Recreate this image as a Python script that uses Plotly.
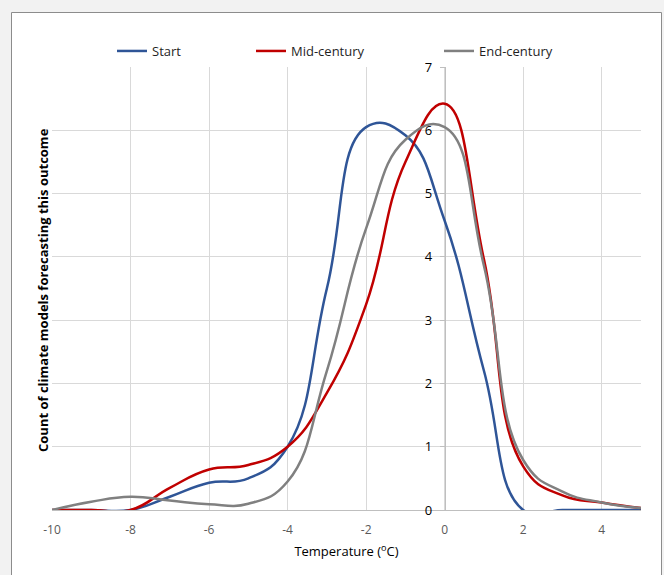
import plotly.graph_objects as go

temperature = [-10, -9, -8, -7, -6, -5, -4, -3, -2, -1, 0, 1, 2, 3, 4, 5]
start = [0, 0, 0, 0.21, 0.43, 0.5, 1.0, 3.5, 6.05, 5.92, 4.57, 2.2, 0, 0, 0, 0]
mid_century = [0, 0, 0, 0.35, 0.64, 0.71, 1.0, 1.85, 3.25, 5.5, 6.42, 3.96, 0.69, 0.23, 0.12, 0.03]
end_century = [0, 0.13, 0.21, 0.15, 0.09, 0.1, 0.45, 2.2, 4.45, 5.85, 6.05, 3.86, 0.79, 0.29, 0.12, 0.03]
series_names = ["Start", "Mid-century", "End-century"]
series_colors = ["#2f5597", "#c00000", "#808080"]
x_ticks = [-10, -8, -6, -4, -2, 0, 2, 4]
x_tick_text = ["-10", "-8", "-6", "-4", "-2", "0", "2", "4"]

W, H = 664, 575
L, R, T, B = 52, 23, 67, 65
pw, ph = W - L - R, H - T - B
def px(xp):
    return (xp - L) / pw
def py(yp):
    return (H - B - yp) / ph

FONT = "Open Sans"
fig = go.Figure()
legends = ["legend", "legend2", "legend3"]
for name, ys, col, lg in zip(series_names, [start, mid_century, end_century], series_colors, legends):
    fig.add_trace(go.Scatter(x=temperature, y=ys, mode="lines", name=name,
                             line=dict(color=col, width=2.5, shape="spline", smoothing=1.3),
                             legend=lg, hoverinfo="skip"))

leg_common = dict(orientation="h", yanchor="middle", xanchor="left",
                  bgcolor="rgba(0,0,0,0)", font=dict(family=FONT, size=13, color="#1f1f1f"),
                  itemwidth=30, tracegroupgap=0)
leg_x = [112, 251, 439]
fig.update_layout(
    width=W, height=H,
    margin=dict(l=L, r=R, t=T, b=B),
    paper_bgcolor="#f2f2f2", plot_bgcolor="white",
    showlegend=True,
    legend=dict(x=px(leg_x[0]), y=py(51), **leg_common),
    legend2=dict(x=px(leg_x[1]), y=py(51), **leg_common),
    legend3=dict(x=px(leg_x[2]), y=py(51), **leg_common),
    xaxis=dict(range=[-10, 5], tickvals=x_ticks, ticktext=x_tick_text, showgrid=True, gridcolor="#d9d9d9", gridwidth=1,
               zeroline=False, showline=True, linecolor="#bfbfbf", linewidth=1,
               ticks="outside", ticklen=9, tickcolor="rgba(0,0,0,0)",
               tickfont=dict(family=FONT, size=12, color="#595959"),
               title=dict(text="Temperature (<sup>o</sup>C)", font=dict(family=FONT, size=13, color="#000000"), standoff=9),
               layer="below traces"),
    yaxis=dict(range=[0, 7], dtick=1, anchor="free", position=10 / 15, showgrid=True, gridcolor="#d9d9d9",
               zeroline=False, showline=True, linecolor="#bfbfbf", linewidth=1,
               ticks="outside", ticklen=5, tickcolor="#bfbfbf", ticklabelstandoff=5,
               tickfont=dict(family=FONT, size=13, color="#000000"),
               layer="below traces"),
    shapes=[dict(type="rect", xref="paper", yref="paper", x0=px(11.5), x1=px(661.5), y0=py(590), y1=py(12.5),
                 line=dict(color="#8c8c8c", width=1), fillcolor="white", layer="below")],
    annotations=[dict(text="<b>Count of climate models forecasting this outcome</b>", textangle=-90,
                      xref="paper", yref="paper", x=px(43), y=py(290), showarrow=False,
                      xanchor="center", yanchor="middle", font=dict(family=FONT, size=13, color="#000000"))],
)
fig.write_html("out.html")
